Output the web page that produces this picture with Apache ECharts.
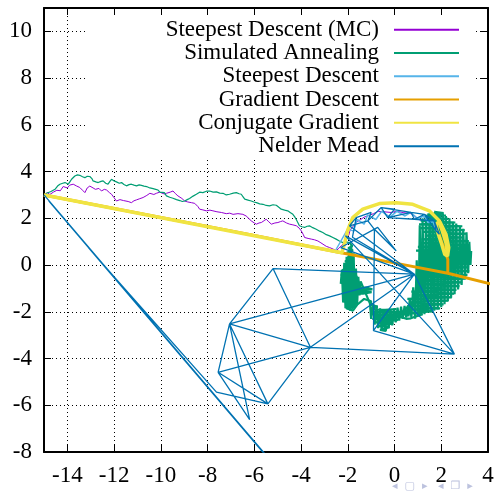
<!DOCTYPE html>
<html>
<head>
<meta charset="utf-8">
<script src="https://cdn.jsdelivr.net/npm/echarts@6/dist/echarts.min.js"></script>
<style>
  html, body { margin: 0; padding: 0; background: #fff; }
  #chart { width: 497px; height: 496px; }
</style>
</head>
<body>
<div id="chart"></div>
<script>
// tick labels
var xTicks = [-14, -12, -10, -8, -6, -4, -2, 0, 2, 4];
var yTicks = [-8, -6, -4, -2, 0, 2, 4, 6, 8, 10];

var seriesNames = ["Steepest Descent (MC)", "Simulated Annealing", "Steepest Descent",
  "Gradient Descent", "Conjugate Gradient", "Nelder Mead"];

// Steepest Descent (MC)
var mcPath = [[-15.0,3.0],[-14.85,3.1],[-14.75,3.02],[-14.6,3.12],[-14.45,3.2],[-14.3,3.18],[-14.18,3.36],
  [-14.0,3.3],[-13.9,3.42],[-13.75,3.46],[-13.6,3.38],[-13.47,3.32],[-13.35,3.2],[-13.25,3.1],[-13.15,3.3],
  [-13.04,3.38],[-12.9,3.3],[-12.8,3.24],[-12.65,3.28],[-12.54,3.17],[-12.42,3.24],[-12.32,3.21],[-12.2,3.1],
  [-12.11,3.03],[-12.0,2.88],[-11.9,2.74],[-11.75,2.8],[-11.6,2.76],[-11.54,2.82],[-11.4,2.72],[-11.26,2.67],
  [-11.15,2.75],[-11.04,2.79],[-10.9,2.84],[-10.76,2.89],[-10.6,2.98],[-10.47,3.07],[-10.3,3.02],[-10.19,3.07],
  [-10.05,3.12],[-9.97,3.1],[-9.85,3.04],[-9.76,3.07],[-9.6,3.12],[-9.48,3.17],[-9.38,3.06],[-9.27,2.96],
  [-9.1,2.85],[-8.98,2.74],[-8.85,2.7],[-8.69,2.67],[-8.55,2.64],[-8.41,2.5],[-8.34,2.39],[-8.2,2.36],
  [-8.05,2.32],[-7.9,2.35],[-7.77,2.32],[-7.6,2.28],[-7.41,2.25],[-7.2,2.2],[-7.05,2.22],[-6.91,2.17],
  [-6.7,2.2],[-6.49,2.17],[-6.35,2.1],[-6.27,2.03],[-6.13,1.89],[-6.0,1.8],[-5.91,1.75],[-5.8,1.8],
  [-5.7,1.82],[-5.58,1.9],[-5.49,1.96],[-5.38,1.85],[-5.27,1.75],[-5.12,1.8],[-4.99,1.82],[-4.88,1.86],
  [-4.78,1.89],[-4.62,1.8],[-4.49,1.75],[-4.35,1.72],[-4.2,1.68],[-4.08,1.58],[-3.99,1.46],[-3.9,1.3],
  [-3.85,1.18],[-3.7,1.14],[-3.56,1.11],[-3.42,1.08],[-3.28,1.03],[-3.15,0.95],[-3.07,0.89],[-2.92,0.8],
  [-2.78,0.75],[-2.62,0.68],[-2.5,0.61],[-2.38,0.72],[-2.25,0.85],[-2.12,1.0],[-2.05,1.18],[-1.95,1.3],
  [-1.9,1.5],[-1.78,1.65],[-1.6,1.85],[-1.45,1.95],[-1.3,2.05],[-1.1,2.12],[-0.9,2.2],[-0.7,2.3],
  [-0.45,2.28],[-0.15,2.25],[0.1,2.3],[0.4,2.24],[0.71,2.2],[0.85,2.1],[1.0,1.96],[1.2,1.9],[1.35,1.82]];

// Simulated Annealing: the walk in, then the cloud it wanders in
var saPath = [[-15.0,3.0],[-14.89,3.07],[-14.7,3.15],[-14.53,3.24],[-14.42,3.38],[-14.32,3.46],[-14.2,3.5],
  [-14.1,3.53],[-13.96,3.46],[-13.88,3.58],[-13.82,3.67],[-13.75,3.74],[-13.68,3.81],[-13.57,3.86],
  [-13.47,3.84],[-13.35,3.78],[-13.25,3.74],[-13.15,3.8],[-13.04,3.79],[-12.95,3.7],[-12.9,3.6],
  [-12.78,3.56],[-12.68,3.53],[-12.56,3.58],[-12.47,3.6],[-12.36,3.5],[-12.26,3.46],[-12.18,3.58],
  [-12.11,3.67],[-12.0,3.6],[-11.9,3.56],[-11.78,3.5],[-11.68,3.53],[-11.58,3.45],[-11.47,3.39],
  [-11.36,3.44],[-11.26,3.46],[-11.15,3.42],[-11.04,3.39],[-10.93,3.43],[-10.83,3.41],[-10.72,3.38],
  [-10.61,3.36],[-10.47,3.3],[-10.33,3.27],[-10.22,3.24],[-10.12,3.21],[-10.04,3.12],[-9.97,3.07],
  [-9.85,3.1],[-9.76,2.96],[-9.62,2.9],[-9.48,2.86],[-9.33,2.8],[-9.19,2.76],[-9.08,2.72],[-8.98,2.74],
  [-8.87,2.8],[-8.77,2.85],[-8.62,2.95],[-8.48,3.03],[-8.34,3.12],[-8.2,3.1],[-8.05,3.16],[-7.91,3.17],
  [-7.76,3.12],[-7.62,3.13],[-7.48,3.08],[-7.34,3.07],[-7.2,3.0],[-7.06,3.03],[-6.9,3.08],[-6.77,3.1],
  [-6.65,3.05],[-6.56,3.03],[-6.48,2.92],[-6.41,2.82],[-6.27,2.78],[-6.13,2.74],[-6.02,2.7],[-5.91,2.67],
  [-5.77,2.62],[-5.63,2.6],[-5.49,2.55],[-5.35,2.53],[-5.2,2.58],[-5.06,2.56],[-4.95,2.47],[-4.85,2.39],
  [-4.7,2.35],[-4.57,2.32],[-4.45,2.24],[-4.35,2.17],[-4.27,2.06],[-4.21,1.96],[-4.14,1.82],[-4.07,1.68],
  [-3.96,1.64],[-3.85,1.61],[-3.74,1.66],[-3.64,1.68],[-3.5,1.6],[-3.35,1.53],[-3.2,1.45],[-3.07,1.39],
  [-2.92,1.3],[-2.78,1.25],[-2.64,1.18],[-2.5,1.11],[-2.36,1.03],[-2.21,0.96],[-2.07,0.99],[-1.93,0.96]];

// cloud, horizontal pass
var saCloud = [[-1.93,0.96],[-1.8,0.82],[-1.98,0.72],[-1.78,0.62],[-2.05,0.52],[-1.82,0.44],[-2.0,0.34],
  [-1.76,0.26],[-2.12,0.16],[-1.84,0.06],[-2.18,-0.04],[-1.74,-0.12],[-2.25,-0.22],[-1.7,-0.3],[-2.3,-0.42],
  [-1.58,-0.5],[-2.22,-0.58],[-1.52,-0.68],[-2.3,-0.76],[-1.45,-0.84],[-2.18,-0.92],[-1.2,-0.96],
  [-0.95,-1.04],[-2.05,-1.08],[-0.98,-1.16],[-1.35,-1.22],[-2.25,-1.2],[-1.6,-1.32],[-2.1,-1.4],
  [-1.62,-1.48],[-2.2,-1.55],[-1.68,-1.62],[-2.05,-1.7],[-1.72,-1.78],[-2.08,-1.84],[-1.78,-1.95],
  [-1.6,-1.7],[-1.3,-1.45],[-1.0,-1.55],[-1.02,-1.7],[-0.72,-1.78],[-1.05,-1.88],[-0.4,-1.92],[0.08,-1.88],
  [-0.96,-2.02],[0.35,-2.0],[0.55,-1.8],[0.62,-2.1],[-0.9,-2.12],[0.4,-2.22],[-0.95,-2.3],[0.15,-2.35],
  [-0.82,-2.45],[-0.05,-2.5],[-0.75,-2.6],[-0.22,-2.66],[-0.62,-2.78],[-0.38,-2.82],[-0.3,-2.5],
  [0.2,-2.2],[0.5,-2.3],[0.7,-2.28],[1.2,-2.1],[0.62,-2.05],[1.65,-1.98],[0.75,-1.9],[1.95,-1.85],
  [0.58,-1.75],[2.1,-1.68],[0.68,-1.6],[2.3,-1.52],[0.55,-1.45],[2.45,-1.38],[0.8,-1.3],[2.55,-1.22],
  [0.72,-1.14],[2.65,-1.06],[0.88,-0.98],[2.78,-0.9],[1.0,-0.82],[2.9,-0.74],[0.92,-0.66],[3.05,-0.58],
  [1.12,-0.5],[3.12,-0.42],[1.05,-0.34],[3.2,-0.26],[1.2,-0.18],[3.1,-0.1],[1.35,-0.02],[3.2,0.06],
  [1.25,0.14],[3.12,0.22],[1.3,0.3],[3.3,0.38],[1.1,0.46],[3.15,0.54],[0.92,0.62],[3.22,0.7],[1.0,0.78],
  [3.1,0.86],[1.22,0.94],[3.18,1.02],[1.15,1.1],[2.95,1.18],[1.3,1.26],[3.08,1.34],[1.2,1.42],[3.0,1.5],
  [1.1,1.58],[2.9,1.66],[1.05,1.74],[2.6,1.82],[1.12,1.9],[2.3,1.98],[1.25,2.06],[2.2,2.12],[1.4,2.16],
  [2.1,2.22],[1.7,2.28],[1.9,2.2]];

// cloud, vertical pass
var saCloud2 = [[-2.3,-0.8],[-2.25,-0.2],[-2.2,-1.6],[-2.15,0.1],[-2.1,-1.85],[-2.05,0.35],[-2.0,-1.9],
  [-1.95,0.6],[-1.9,-1.95],[-1.85,0.85],[-1.8,-1.9],[-1.75,0.5],[-1.7,-1.8],[-1.65,-0.15],[-1.6,-1.7],
  [-1.55,-0.5],[-1.5,-1.3],[-1.45,-0.7],
  [-1.05,-1.65],[-1.0,-2.3],[-0.92,-1.65],[-0.85,-2.55],[-0.77,-1.75],[-0.7,-2.7],[-0.62,-1.85],
  [-0.55,-2.82],[-0.47,-1.88],[-0.4,-2.8],[-0.32,-1.9],[-0.25,-2.7],[-0.17,-1.9],[-0.1,-2.58],
  [-0.02,-1.86],[0.05,-2.45],[0.13,-1.82],[0.2,-2.38],[0.28,-1.78],[0.35,-2.3],[0.43,-1.75],[0.5,-2.25],
  [0.58,-1.72],
  [0.6,-2.2],[0.65,-1.45],[0.72,-2.25],[0.8,-0.95],[0.88,-2.3],[0.95,0.2],[1.02,-2.2],[1.08,1.7],
  [1.15,-2.15],[1.2,2.0],[1.28,-2.1],[1.35,2.15],[1.42,-2.0],[1.5,2.2],[1.57,-2.0],[1.63,2.25],
  [1.7,-1.95],[1.77,2.28],[1.85,-1.9],[1.92,2.25],[2.0,-1.8],[2.07,2.2],[2.14,-1.68],[2.2,2.1],
  [2.28,-1.55],[2.35,2.0],[2.42,-1.4],[2.5,1.85],[2.57,-1.25],[2.64,1.78],[2.72,-1.05],[2.8,1.65],
  [2.87,-0.85],[2.94,1.55],[3.02,-0.6],[3.08,1.4],[3.15,-0.35],[3.2,1.0],[3.25,0.0],[3.28,0.6]];

// Steepest Descent
var sdPath = [[-15.0,3.0],[-2.55,0.58],[-2.0,1.55],[-1.75,1.45],[-1.6,1.95],[-1.3,1.75],[-1.15,2.15],
  [-0.8,1.95],[-0.55,2.3],[-0.2,2.05],[0.1,2.3],[0.45,2.1],[0.7,2.25],[1.0,1.98],[1.25,2.1],[1.45,1.82],
  [1.65,1.85],[1.75,1.55],[1.85,1.5]];

// Gradient Descent
var gdPath = [[-15.0,3.0],[-6.0,1.27],[-2.5,0.57],[0.2,0.05],[2.28,-0.35],[4.6,-0.93],[2.28,-0.35],
  [2.28,0.25],[2.05,0.9],[1.85,1.45]];

// Conjugate Gradient
var cgPath = [[-15.0,3.0],[-2.25,0.53],[-2.12,1.0],[-2.0,1.5],[-1.79,2.03],[-1.36,2.39],[-0.65,2.63],
  [0.07,2.67],[0.78,2.6],[1.49,2.32],[1.92,1.89],[2.2,1.32],[2.32,0.75],[2.27,0.39],[2.15,0.45],
  [2.0,0.95],[1.85,1.4],[1.78,1.75],[1.9,1.85],[2.05,1.45],[2.2,0.95],[2.27,0.5]];

// Nelder Mead (simplex vertices in visiting order)
var nmPath = [[-15.0,3.0],[-5.1,-8.6],[-14.8,2.75],[-5.3,-8.4],[-13.1,0.75],[-11.9,-0.62],[-7.62,-5.44],
  [-5.42,-5.94],[-7.55,-4.59],[-6.2,-6.61],[-7.06,-2.52],[-5.42,-5.94],[-3.6,-3.52],[-7.55,-4.59],
  [-7.06,-2.52],[-3.6,-3.52],[0.85,-0.39],[-7.06,-2.52],[-5.2,-0.15],[-3.6,-3.52],[2.56,-3.81],
  [0.85,-0.39],[-5.2,-0.15],[0.85,-0.39],[-0.9,-2.81],[2.56,-3.81],[-2.1,1.25],[0.85,-0.39],
  [-1.93,1.68],[-1.64,2.03],[-1.8,1.19],[0.85,-0.39],[-2.3,0.75],[-0.72,1.61],[0.07,0.61],
  [-0.86,1.53],[-0.9,-2.81],[-0.86,1.53],[-1.14,1.89],[-1.0,2.25],[-1.64,2.03],[-1.93,1.68],
  [-1.14,1.89],[-0.57,2.46],[-0.29,2.03],[0.0,2.39],[-0.57,2.46],[0.71,2.25],[-0.29,2.03],[0.85,1.96],
  [0.71,2.25],[1.28,2.17],[0.85,1.96],[1.7,1.89],[1.28,2.17],[1.78,1.46],[1.7,1.89],[1.92,1.32],[1.78,1.46]];

var serif = "'Liberation Serif', 'DejaVu Serif', serif";

function lineSeries(name, data, color, width) {
  return {
    name: name,
    type: "line",
    data: data,
    symbol: "none",
    silent: true,
    animation: false,
    lineStyle: { color: color, width: width },
    itemStyle: { color: color },
    emphasis: { disabled: true }
  };
}

var chart = echarts.init(document.getElementById("chart"));

var option = {
  backgroundColor: "#fff",
  animation: false,
  grid: { left: 44, right: 9, top: 8, bottom: 44 },
  legend: {
    data: seriesNames,
    orient: "vertical",
    right: 21,
    top: 15,
    align: "right",
    itemWidth: 65,
    itemHeight: 10,
    itemGap: 0,
    padding: [3, 16, 0, 80],
    backgroundColor: "#fff",
    selectedMode: false,
    itemStyle: { opacity: 0 },
    textStyle: { fontFamily: serif, fontSize: 23, color: "#000", lineHeight: 23.3, padding: [0, 10, 0, 0] }
  },
  xAxis: [
    {
      type: "value", min: -15, max: 4, position: "bottom",
      axisLine: { show: true, onZero: false, lineStyle: { color: "#000", width: 2 } },
      axisTick: { show: true, inside: true, length: 7, customValues: xTicks, lineStyle: { color: "#000" } },
      axisLabel: { customValues: xTicks, fontFamily: serif, fontSize: 23, color: "#000", margin: 12 },
      splitLine: { show: true, lineStyle: { color: "#000", width: 1, type: [1, 3] } }
    },
    {
      type: "value", min: -15, max: 4, position: "top",
      axisLine: { show: true, onZero: false, lineStyle: { color: "#000", width: 2 } },
      axisTick: { show: true, inside: true, length: 7, customValues: xTicks, lineStyle: { color: "#000" } },
      axisLabel: { show: false },
      splitLine: { show: false }
    }
  ],
  yAxis: [
    {
      type: "value", min: -8, max: 11, position: "left",
      axisLine: { show: true, onZero: false, lineStyle: { color: "#000", width: 2 } },
      axisTick: { show: true, inside: true, length: 7, customValues: yTicks, lineStyle: { color: "#000" } },
      axisLabel: { customValues: yTicks, fontFamily: serif, fontSize: 23, color: "#000", margin: 12 },
      splitLine: { show: true, lineStyle: { color: "#000", width: 1, type: [1, 3] } }
    },
    {
      type: "value", min: -8, max: 11, position: "right",
      axisLine: { show: true, onZero: false, lineStyle: { color: "#000", width: 2 } },
      axisTick: { show: true, inside: true, length: 7, customValues: yTicks, lineStyle: { color: "#000" } },
      axisLabel: { show: false },
      splitLine: { show: false }
    }
  ],
  series: [
    lineSeries(seriesNames[0], mcPath, "#9400d3", 1),
    lineSeries(seriesNames[1], saPath, "#009e73", 1.2),
    lineSeries(seriesNames[1], saCloud, "#009e73", 2.2),
    lineSeries(seriesNames[1], saCloud2, "#009e73", 2.2),
    lineSeries(seriesNames[2], sdPath, "#56b4e9", 1.5),
    lineSeries(seriesNames[3], gdPath, "#e69f00", 3),
    lineSeries(seriesNames[4], cgPath, "#f0e442", 3.5),
    lineSeries(seriesNames[5], nmPath, "#0072b2", 1.3)
  ],
  graphic: [
    { type: "text", left: 392, top: 481, silent: true,
      style: { text: "◂  ▢  ▸   ◂  ❐  ▸", fill: "#bcc2de", font: "11px 'DejaVu Sans'" } }
  ]
};

chart.setOption(option);
</script>
</body>
</html>
